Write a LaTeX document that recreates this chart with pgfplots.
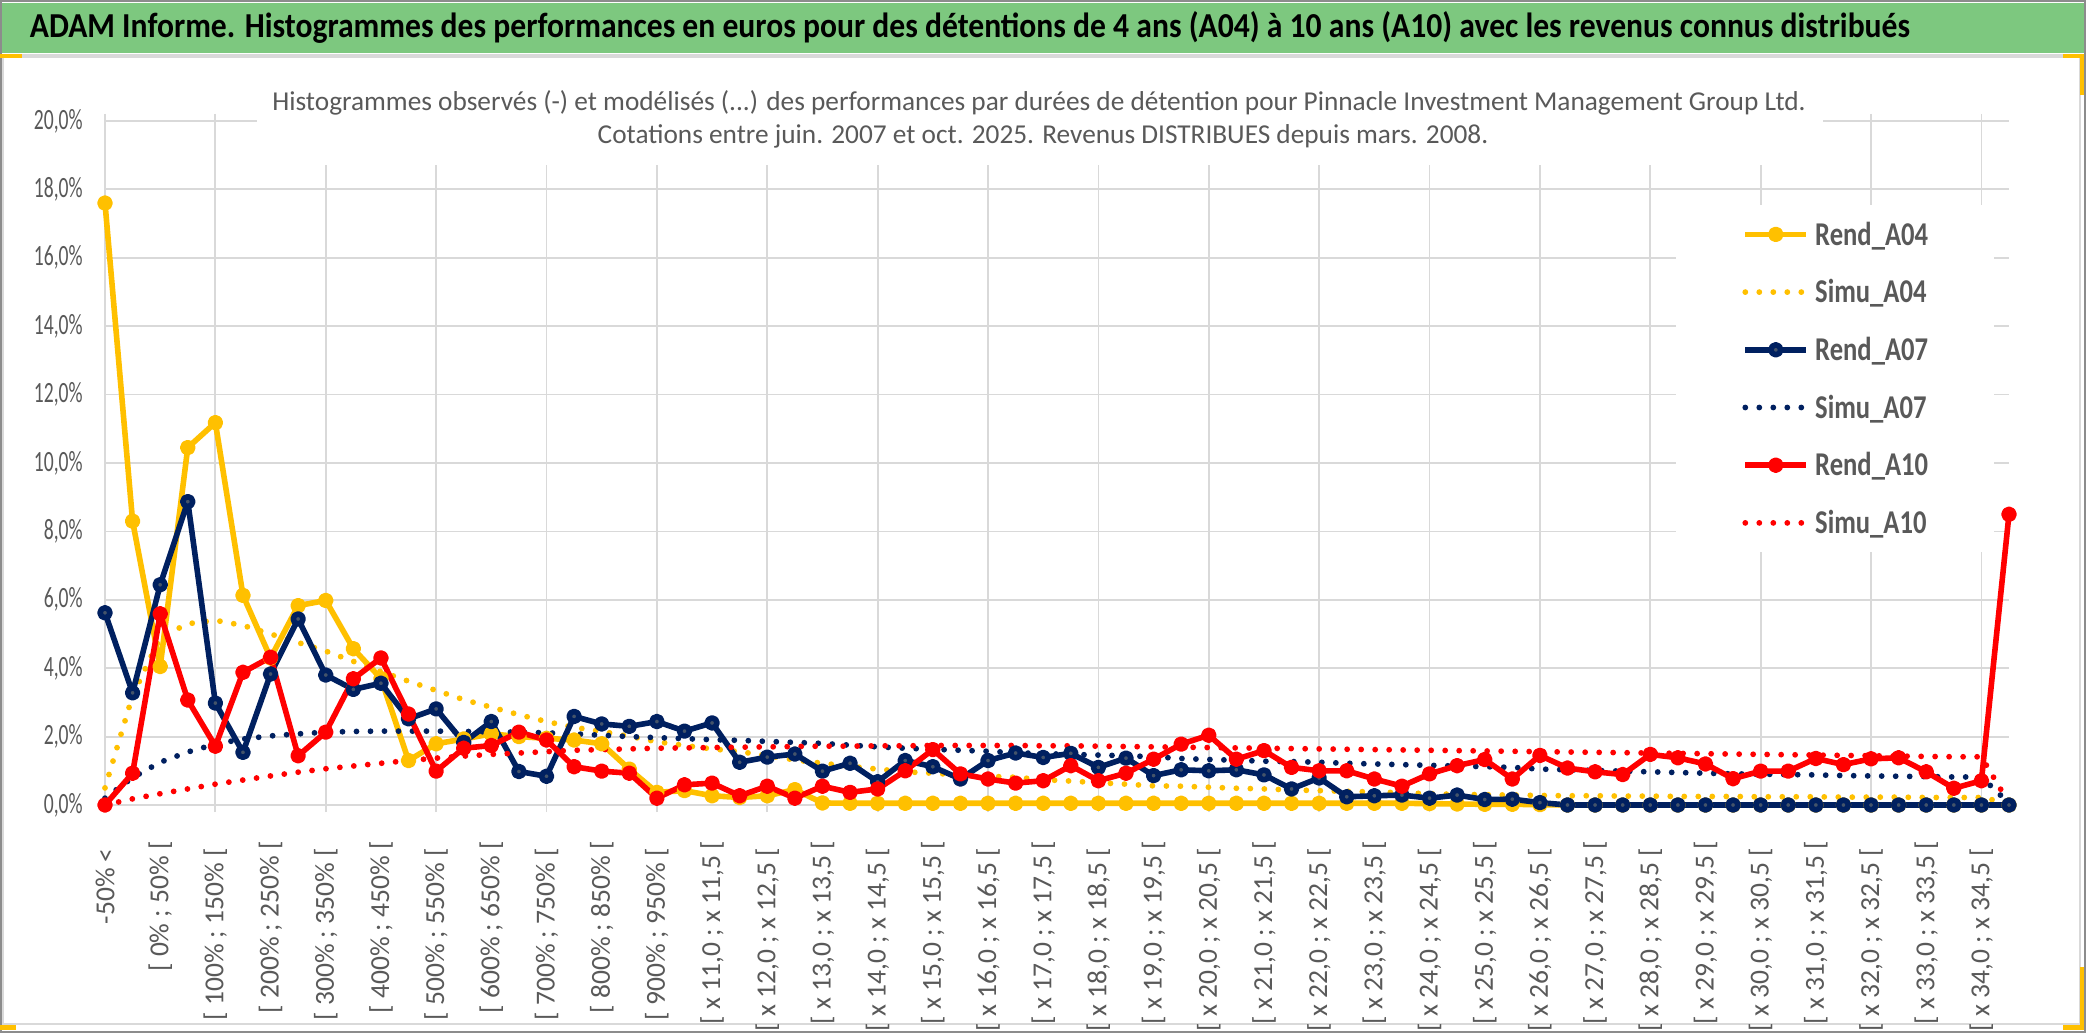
\documentclass[border=0pt]{standalone}
\usepackage{fontspec}
\setmainfont{Carlito}
\usepackage{graphicx}
\usepackage{pgfplots}
\pgfplotsset{compat=1.18}
\usepackage{pgfplotstable}

\definecolor{gold}{HTML}{FFC000}
\definecolor{navy}{HTML}{002060}
\definecolor{navymark}{HTML}{44546A}
\definecolor{redc}{HTML}{FF0000}
\definecolor{gridgray}{HTML}{D9D9D9}
\definecolor{labgray}{HTML}{595959}
\definecolor{framegray}{HTML}{8C8C8C}
\definecolor{titlegreen}{RGB}{125,200,127}

\newcommand{\yl}[1]{\scalebox{1}[1.5]{#1}}
\newcommand{\lgd}[1]{\scalebox{1}[1.25]{\bfseries #1}}

\pgfplotstableread{
i r04 s04 r07 s07 r10 s10
0 17.6 0.5 5.62 0.2 0 0
1 8.3 3.2 3.28 0.8 0.93 0.18
2 4.05 4.9 6.44 1.25 5.59 0.33
3 10.45 5.3 8.87 1.55 3.07 0.47
4 11.18 5.4 2.98 1.78 1.72 0.61
5 6.13 5.25 1.54 1.93 3.88 0.73
6 4.3 5.0 3.83 2.02 4.32 0.85
7 5.83 4.75 5.44 2.08 1.44 0.96
8 5.98 4.5 3.80 2.13 2.13 1.06
9 4.57 4.2 3.38 2.15 3.69 1.14
10 3.7 3.9 3.56 2.16 4.30 1.22
11 1.3 3.62 2.52 2.16 2.66 1.3
12 1.79 3.35 2.81 2.16 0.99 1.37
13 1.93 3.08 1.83 2.15 1.66 1.43
14 2.08 2.86 2.44 2.14 1.74 1.48
15 2.0 2.64 0.98 2.13 2.13 1.52
16 1.95 2.44 0.84 2.11 1.9 1.56
17 1.9 2.27 2.59 2.08 1.12 1.6
18 1.79 2.15 2.37 2.04 0.99 1.62
19 1.05 2.01 2.30 2.0 0.93 1.64
20 0.37 1.85 2.44 1.97 0.20 1.66
21 0.42 1.74 2.16 1.94 0.59 1.67
22 0.27 1.64 2.40 1.91 0.64 1.68
23 0.22 1.56 1.25 1.89 0.27 1.69
24 0.27 1.44 1.40 1.86 0.55 1.70
25 0.45 1.32 1.49 1.83 0.20 1.71
26 0.06 1.22 0.99 1.80 0.55 1.72
27 0.05 1.13 1.22 1.75 0.37 1.72
28 0.05 1.05 0.68 1.70 0.47 1.73
29 0.05 0.97 1.30 1.66 1.00 1.73
30 0.05 0.93 1.12 1.63 1.62 1.74
31 0.05 0.88 0.76 1.60 0.91 1.74
32 0.05 0.84 1.30 1.57 0.76 1.74
33 0.05 0.81 1.52 1.53 0.64 1.74
34 0.05 0.74 1.39 1.50 0.71 1.73
35 0.05 0.70 1.51 1.48 1.15 1.73
36 0.05 0.65 1.10 1.46 0.71 1.72
37 0.05 0.61 1.37 1.44 0.93 1.71
38 0.05 0.56 0.86 1.41 1.34 1.70
39 0.05 0.55 1.03 1.36 1.78 1.69
40 0.05 0.52 1.00 1.33 2.04 1.68
41 0.05 0.49 1.03 1.31 1.34 1.67
42 0.05 0.47 0.88 1.28 1.59 1.66
43 0.05 0.44 0.47 1.27 1.10 1.65
44 0.05 0.42 0.79 1.25 1.00 1.64
45 0.05 0.40 0.24 1.22 1.00 1.63
46 0.05 0.38 0.27 1.20 0.76 1.62
47 0.05 0.36 0.29 1.18 0.55 1.61
48 0.04 0.33 0.20 1.16 0.91 1.60
49 0.03 0.31 0.29 1.14 1.15 1.59
50 0.02 0.30 0.16 1.12 1.33 1.58
51 0.02 0.29 0.17 1.10 0.76 1.57
52 0.01 0.28 0.07 1.05 1.45 1.56
53 0 0.27 0 1.03 1.08 1.55
54 0 0.27 0 1.01 0.97 1.54
55 0 0.26 0 0.99 0.89 1.53
56 0 0.26 0 0.97 1.48 1.52
57 0 0.25 0 0.95 1.38 1.51
58 0 0.25 0 0.93 1.20 1.50
59 0 0.25 0 0.91 0.77 1.49
60 0 0.24 0 0.90 0.99 1.48
61 0 0.24 0 0.89 0.99 1.47
62 0 0.24 0 0.88 1.36 1.46
63 0 0.23 0 0.86 1.18 1.45
64 0 0.23 0 0.85 1.35 1.44
65 0 0.23 0 0.84 1.38 1.43
66 0 0.22 0 0.83 0.97 1.42
67 0 0.22 0 0.82 0.49 1.41
68 0 0.22 0 0.82 0.71 1.41
69 0 0.05 0 0.05 8.50 0.05
}\data

\begin{document}
\begin{tikzpicture}
\path[use as bounding box] (0pt,0pt) rectangle (1043pt,516.5pt);
\fill[white] (0pt,0pt) rectangle (1043pt,516.5pt);
% title bar
\fill[titlegreen] (0pt,490pt) rectangle (1043pt,515pt);
\fill[gridgray] (0pt,487.6pt) rectangle (1043pt,489.4pt);
% chart frame
\draw[gridgray, line width=1pt] (1.5pt,488pt) -- (1.5pt,4.5pt) -- (1040pt,4.5pt) -- (1040pt,488pt);
\draw[framegray, line width=0.8pt] (0.4pt,0.4pt) rectangle (1042.6pt,516.1pt);
% small selection handles
\fill[gold] (0pt,487.6pt) rectangle (11pt,489.6pt);
\fill[gold] (1031.5pt,487.6pt) rectangle (1042pt,489.6pt);
\fill[gold] (1040pt,469pt) rectangle (1042pt,489.6pt);
\fill[gold] (0pt,1.5pt) rectangle (8pt,4.2pt);
\fill[gold] (1031.5pt,1.5pt) rectangle (1042pt,4.2pt);
\fill[gold] (1040pt,1.5pt) rectangle (1042pt,33pt);
% title
\node[anchor=base, inner sep=0pt] at (485pt,497.5pt)
  {\resizebox{940pt}{13pt}{\bfseries ADAM Informe. Histogrammes des performances en euros pour des détentions de 4 ans (A04) à 10 ans (A10) avec les revenus connus distribués}};

\begin{axis}[
  at={(52.5pt,114pt)}, anchor=origin,
  scale only axis, width=952pt, height=342pt,
  xmin=0, xmax=69, ymin=0, ymax=20,
  clip=false,
  axis line style={draw=none},
  /pgf/number format/assume math mode=true,
  ytick={0,2,...,20},
  yticklabels={{\yl{0,0\%}},{\yl{2,0\%}},{\yl{4,0\%}},{\yl{6,0\%}},{\yl{8,0\%}},{\yl{10,0\%}},{\yl{12,0\%}},{\yl{14,0\%}},{\yl{16,0\%}},{\yl{18,0\%}},{\yl{20,0\%}}},
  ytick style={draw=none},
  yticklabel style={font=\fontsize{9.8}{11}\selectfont, text=labgray, anchor=east, inner sep=0pt, xshift=-7.5pt},
  ymajorgrids, xmajorgrids,
  grid style={color=gridgray, line width=0.9pt},
  tick align=outside,
  major tick length=3.5pt,
  xtick style={color=gridgray, line width=0.9pt},
  xtick={0,4,...,68},
  xticklabels={{-50\% <},{[ 100\% ; 150\% [},{[ 300\% ; 350\% [},{[ 500\% ; 550\% [},{[ 700\% ; 750\% [},{[ 900\% ; 950\% [},{[ x 12,0 ; x 12,5 [},{[ x 14,0 ; x 14,5 [},{[ x 16,0 ; x 16,5 [},{[ x 18,0 ; x 18,5 [},{[ x 20,0 ; x 20,5 [},{[ x 22,0 ; x 22,5 [},{[ x 24,0 ; x 24,5 [},{[ x 26,0 ; x 26,5 [},{[ x 28,0 ; x 28,5 [},{[ x 30,0 ; x 30,5 [},{[ x 32,0 ; x 32,5 [},{[ x 34,0 ; x 34,5 [}},
  extra x ticks={2,6,...,66},
  extra x tick labels={{[ 0\% ; 50\% [},{[ 200\% ; 250\% [},{[ 400\% ; 450\% [},{[ 600\% ; 650\% [},{[ 800\% ; 850\% [},{[ x 11,0 ; x 11,5 [},{[ x 13,0 ; x 13,5 [},{[ x 15,0 ; x 15,5 [},{[ x 17,0 ; x 17,5 [},{[ x 19,0 ; x 19,5 [},{[ x 21,0 ; x 21,5 [},{[ x 23,0 ; x 23,5 [},{[ x 25,0 ; x 25,5 [},{[ x 27,0 ; x 27,5 [},{[ x 29,0 ; x 29,5 [},{[ x 31,0 ; x 31,5 [},{[ x 33,0 ; x 33,5 [}},
  extra x tick style={xmajorgrids=false, major tick length=0pt},
  xticklabel style={font=\fontsize{13.75}{15}\selectfont, text=labgray, yshift=-18pt, rotate=90, anchor=east, inner sep=0pt},
  legend cell align=left,
  legend style={at={(rel axis cs:0.8251,0.8772)}, anchor=north west, draw=none, fill=white,
    inner xsep=33pt, inner ysep=9.15pt, row sep=18.15pt, column sep=3pt,
    font=\fontsize{13.3}{15}\selectfont, text=labgray,
    nodes={inner sep=0pt, text height=10.7pt, text depth=0pt}},
  legend image code/.code={\draw[mark repeat=2,mark phase=2,#1] plot coordinates {(0pt,0pt) (15.25pt,0pt) (30.5pt,0pt)};},
  rend/.style={line width=2.8pt, line join=round, mark=*, mark size=2.5pt},
  simu/.style={line width=2.9pt, line cap=round, dash pattern=on 0pt off 7pt, mark=none},
]
\addplot[rend, color=gold, mark options={solid, draw=none, fill=gold}] table[x=i,y=r04]{\data};
\addlegendentry{\lgd{Rend\_A04}}
\addplot[simu, color=gold] table[x=i,y=s04]{\data};
\addlegendentry{\lgd{Simu\_A04}}
\addplot[rend, color=navy, mark options={solid, draw=none, fill=navymark}] table[x=i,y=r07]{\data};
\addlegendentry{\lgd{Rend\_A07}}
\addplot[simu, color=navy] table[x=i,y=s07]{\data};
\addlegendentry{\lgd{Simu\_A07}}
\addplot[rend, color=redc, mark options={solid, draw=none, fill=redc}] table[x=i,y=r10]{\data};
\addlegendentry{\lgd{Rend\_A10}}
\addplot[simu, color=redc] table[x=i,y=s10]{\data};
\addlegendentry{\lgd{Simu\_A10}}
\end{axis}

% subtitle (overlays the top of the plot area)
\fill[white] (128.5pt,434pt) rectangle (911.5pt,481pt);
\node[anchor=base, inner sep=0pt, text=labgray, font=\fontsize{13.65}{16}\selectfont] at (519.5pt,461.2pt)
  {Histogrammes observés (-) et modélisés (...) des performances par durées de détention pour Pinnacle Investment Management Group Ltd.};
\node[anchor=base, inner sep=0pt, text=labgray, font=\fontsize{13.65}{16}\selectfont] at (521.5pt,444.5pt)
  {Cotations entre juin. 2007 et oct. 2025. Revenus DISTRIBUES depuis mars. 2008.};
\end{tikzpicture}
\end{document}
